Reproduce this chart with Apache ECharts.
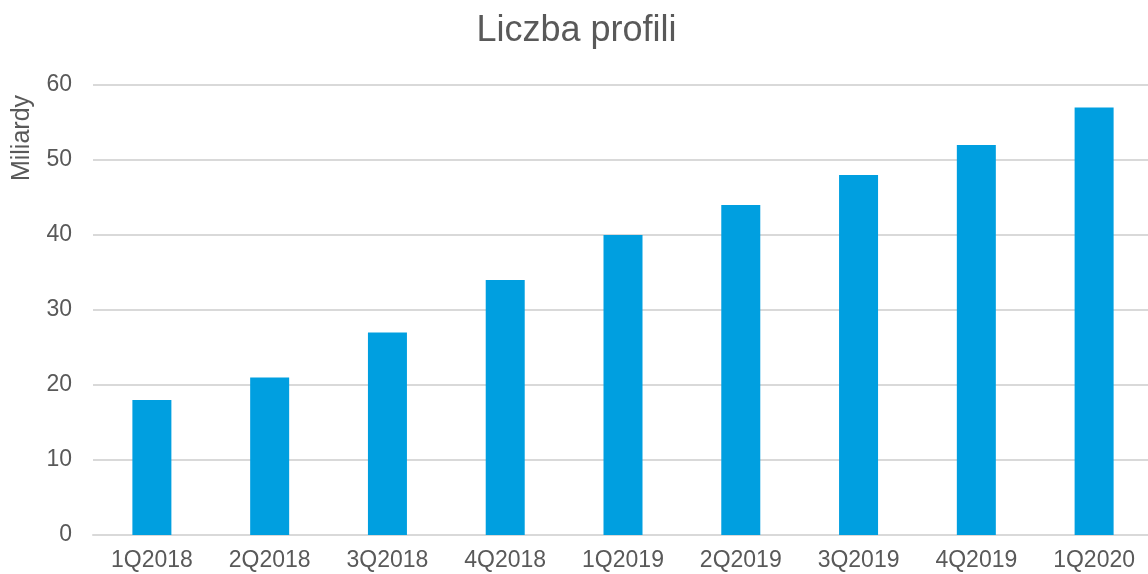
<!DOCTYPE html>
<html>
<head>
<meta charset="utf-8">
<script src="https://cdn.jsdelivr.net/npm/echarts@6/dist/echarts.min.js"></script>
<style>
  html, body { margin: 0; padding: 0; background: #fff; overflow: hidden; }
  /* plot area runs a few px past the right edge, as in the original crop */
  #chart { width: 1153px; height: 574px; }
</style>
</head>
<body>
<div id="chart"></div>
<script>
  // quarters and profile counts (billions)
  var quarters = ['1Q2018', '2Q2018', '3Q2018', '4Q2018', '1Q2019', '2Q2019', '3Q2019', '4Q2019', '1Q2020'];
  var profiles = [18, 21, 27, 34, 40, 44, 48, 52, 57];

  var textColor = '#595959';
  var fontFamily = '"Liberation Sans", Arial, sans-serif';

  var chart = echarts.init(document.getElementById('chart'));
  chart.setOption({
    animation: false,
    title: {
      text: 'Liczba profili',
      left: 'center',
      top: 8,
      textStyle: { color: textColor, fontSize: 36, fontWeight: 'normal', fontFamily: fontFamily }
    },
    grid: { left: 93, top: 85, right: 0, height: 450, containLabel: false },
    xAxis: {
      type: 'category',
      data: quarters,
      axisTick: { show: false },
      axisLine: { lineStyle: { color: '#d9d9d9', width: 2 } },
      axisLabel: { color: textColor, fontSize: 23, fontFamily: fontFamily, margin: 14 }
    },
    yAxis: {
      type: 'value',
      min: 0,
      max: 60,
      interval: 10,
      axisLine: { show: false },
      axisTick: { show: false },
      splitLine: { lineStyle: { color: '#d9d9d9', width: 2 } },
      axisLabel: { color: textColor, fontSize: 23, fontFamily: fontFamily, margin: 21 }
    },
    graphic: [{
      type: 'text',
      x: 22,
      y: 138,
      rotation: Math.PI / 2,
      style: {
        text: 'Miliardy',
        fill: textColor,
        font: '25px ' + fontFamily,
        align: 'center',
        verticalAlign: 'middle'
      }
    }],
    series: [{
      type: 'bar',
      data: profiles,
      barWidth: 39,
      itemStyle: { color: '#009fe0' }
    }]
  });
</script>
</body>
</html>
